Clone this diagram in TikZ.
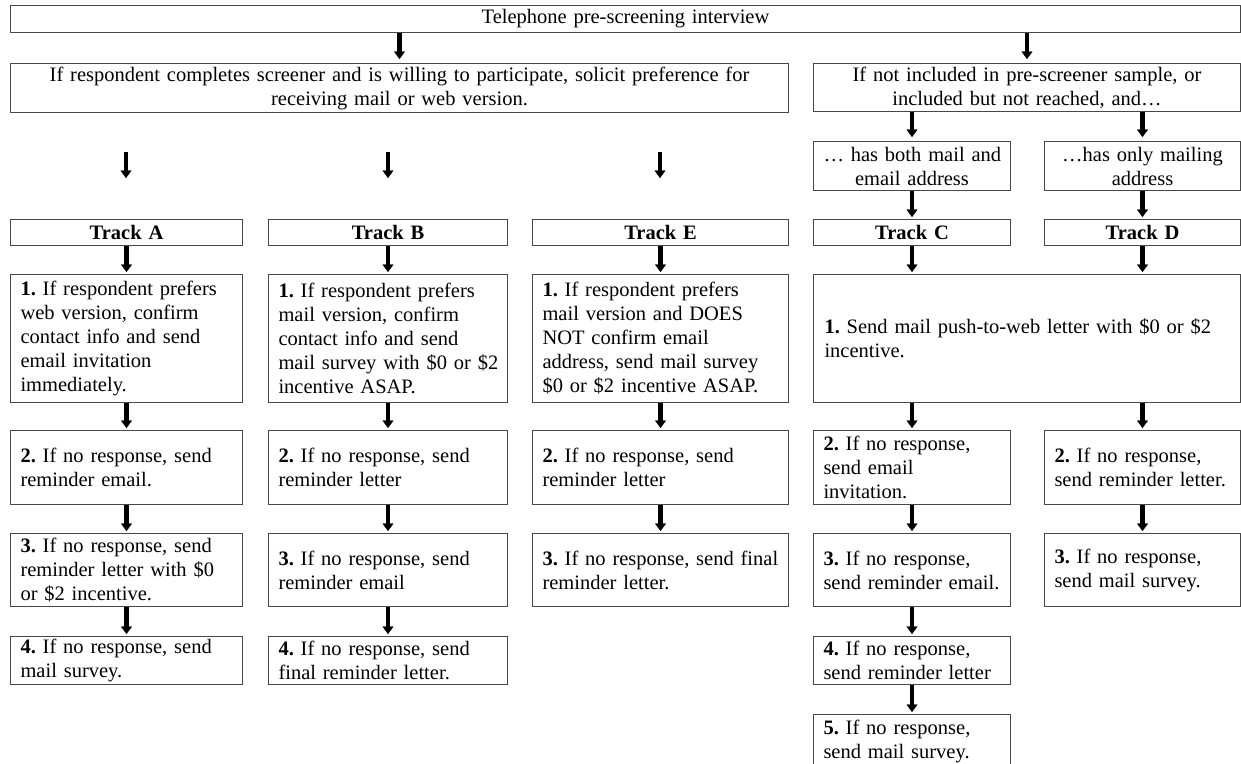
\documentclass[tikz,border=0pt]{standalone}
\usepackage{fontspec}
\setmainfont{Liberation Serif}
\usetikzlibrary{arrows.meta}
\newcommand\fsz{\fontsize{20.5}{24}\selectfont\frenchspacing}
\newcommand\Lx[1]{\mbox{#1}}
\hbadness=10000
\hfuzz=100pt
\tikzset{
  bx/.style={draw=black!72, line width=1pt, anchor=north west, inner xsep=10pt, inner ysep=0pt, font=\fsz},
  stepbox/.style={bx, align=left},
  hdrbox/.style={bx, align=center},
  arr/.style={line width=4.2pt, -{Triangle[width=11pt 0 0, length=7.5pt 0 0, line width=0.3pt 0]}, shorten >=2pt}
}
\begin{document}
\begin{tikzpicture}[x=1pt,y=-1pt]
\useasboundingbox[fill=white] (0,0) rectangle (1241,763);

% headers
\node[hdrbox, minimum width=1230pt, minimum height=27pt, text width=1210pt] (top) at (10,5) {Telephone pre-screening interview};
\node[hdrbox, minimum width=778pt, minimum height=49pt, text width=758pt] (hL) at (10,63) {\Lx{If respondent completes screener and is willing to participate, solicit preference for}\\ \Lx{receiving mail or web version.}};
\node[hdrbox, minimum width=427pt, minimum height=48pt, text width=407pt] (hR) at (813,63) {\Lx{If not included in pre-screener sample, or}\\ \Lx{included but not reached, and\dots}};
\node[hdrbox, minimum width=197pt, minimum height=49pt, text width=177pt] (cH) at (813,141) {\Lx{\dots{} has both mail and}\\ \Lx{email address}};
\node[hdrbox, minimum width=196pt, minimum height=49pt, text width=176pt] (dH) at (1044,141) {\Lx{\dots has only mailing}\\ \Lx{address}};

% tracks
\node[hdrbox, minimum width=232pt, minimum height=26pt, text width=212pt] (tA) at (10,219) {\textbf{Track A}};
\node[hdrbox, minimum width=239pt, minimum height=26pt, text width=219pt] (tB) at (268,219) {\textbf{Track B}};
\node[hdrbox, minimum width=256pt, minimum height=26pt, text width=236pt] (tE) at (532,219) {\textbf{Track E}};
\node[hdrbox, minimum width=197pt, minimum height=26pt, text width=177pt] (tC) at (813,219) {\textbf{Track C}};
\node[hdrbox, minimum width=196pt, minimum height=26pt, text width=176pt] (tD) at (1044,219) {\textbf{Track D}};

% step 1
\node[stepbox, minimum width=232pt, minimum height=128pt, text width=212pt] (a1) at (10,274) {\Lx{\textbf{1.} If respondent prefers}\\ \Lx{web version, confirm}\\ \Lx{contact info and send}\\ \Lx{email invitation}\\ \Lx{immediately.}};
\node[stepbox, minimum width=239pt, minimum height=128pt, text width=219pt] (b1) at (268,274) {\Lx{\textbf{1.} If respondent prefers}\\ \Lx{mail version, confirm}\\ \Lx{contact info and send}\\ \Lx{mail survey with \$0 or \$2}\\ \Lx{incentive ASAP.}};
\node[stepbox, minimum width=256pt, minimum height=128pt, text width=236pt] (e1) at (532,274) {\Lx{\textbf{1.} If respondent prefers}\\ \Lx{mail version and DOES}\\ \Lx{NOT confirm email}\\ \Lx{address, send mail survey}\\ \Lx{\$0 or \$2 incentive ASAP.}};
\node[stepbox, minimum width=427pt, minimum height=128pt, text width=405pt, inner xsep=11pt] (cd1) at (813,274) {\Lx{\textbf{1.} Send mail push-to-web letter with \$0 or \$2}\\ \Lx{incentive.}};

% step 2
\node[stepbox, minimum width=232pt, minimum height=74pt, text width=212pt] (a2) at (10,430) {\Lx{\textbf{2.} If no response, send}\\ \Lx{reminder email.}};
\node[stepbox, minimum width=239pt, minimum height=74pt, text width=219pt] (b2) at (268,430) {\Lx{\textbf{2.} If no response, send}\\ \Lx{reminder letter}};
\node[stepbox, minimum width=256pt, minimum height=74pt, text width=236pt] (e2) at (532,430) {\Lx{\textbf{2.} If no response, send}\\ \Lx{reminder letter}};
\node[stepbox, minimum width=197pt, minimum height=74pt, text width=177pt] (c2) at (813,430) {\Lx{\textbf{2.} If no response,}\\ \Lx{send email}\\ \Lx{invitation.}};
\node[stepbox, minimum width=196pt, minimum height=74pt, text width=176pt] (d2) at (1044,430) {\Lx{\textbf{2.} If no response,}\\ \Lx{send reminder letter.}};

% step 3
\node[stepbox, minimum width=232pt, minimum height=73pt, text width=212pt] (a3) at (10,533) {\Lx{\textbf{3.} If no response, send}\\ \Lx{reminder letter with \$0}\\ \Lx{or \$2 incentive.}};
\node[stepbox, minimum width=239pt, minimum height=73pt, text width=219pt] (b3) at (268,533) {\Lx{\textbf{3.} If no response, send}\\ \Lx{reminder email}};
\node[stepbox, minimum width=256pt, minimum height=73pt, text width=236pt] (e3) at (532,533) {\Lx{\textbf{3.} If no response, send final}\\ \Lx{reminder letter.}};
\node[stepbox, minimum width=197pt, minimum height=73pt, text width=177pt] (c3) at (813,533) {\Lx{\textbf{3.} If no response,}\\ \Lx{send reminder email.}};
\node[stepbox, minimum width=196pt, minimum height=73pt, text width=176pt] (d3) at (1044,533) {\Lx{\textbf{3.} If no response,}\\ \Lx{send mail survey.}};

% step 4
\node[stepbox, minimum width=232pt, minimum height=48pt, text width=212pt] (a4) at (10,636) {\Lx{\textbf{4.} If no response, send}\\ \Lx{mail survey.}};
\node[stepbox, minimum width=239pt, minimum height=48pt, text width=219pt] (b4) at (268,636) {\Lx{\textbf{4.} If no response, send}\\ \Lx{final reminder letter.}};
\node[stepbox, minimum width=197pt, minimum height=48pt, text width=177pt] (c4) at (813,636) {\Lx{\textbf{4.} If no response,}\\ \Lx{send reminder letter}};

% step 5
\node[stepbox, minimum width=197pt, minimum height=54pt, text width=177pt] (c5) at (813,714) {\Lx{\textbf{5.} If no response,}\\ \Lx{send mail survey.}};

% free arrows below left header
\coordinate (fAs) at (126,152); \coordinate (fAe) at (126,178);
\coordinate (fBs) at (388,152); \coordinate (fBe) at (388,178);
\coordinate (fEs) at (660,152); \coordinate (fEe) at (660,178);

% connectors
\draw[arr, shorten >=4pt] (top.south -| hL.north) -- (hL.north);
\draw[arr, shorten >=4pt] (top.south -| hR.north) -- (hR.north);
\draw[arr, shorten >=0pt] (fAs) -- (fAe);
\draw[arr, shorten >=0pt] (fBs) -- (fBe);
\draw[arr, shorten >=0pt] (fEs) -- (fEe);
\draw[arr, shorten >=4pt] (hR.south -| cH.north) -- (cH.north);
\draw[arr, shorten >=4pt] (hR.south -| dH.north) -- (dH.north);
\draw[arr] (cH.south) -- (tC.north);
\draw[arr] (dH.south) -- (tD.north);

\draw[arr] (tA.south) -- (a1.north);
\draw[arr] (tB.south) -- (b1.north);
\draw[arr] (tE.south) -- (e1.north);
\draw[arr] (tC.south) -- (tC.south |- cd1.north);
\draw[arr] (tD.south) -- (tD.south |- cd1.north);

\draw[arr] (a1.south) -- (a2.north);
\draw[arr] (b1.south) -- (b2.north);
\draw[arr] (e1.south) -- (e2.north);
\draw[arr] (cd1.south -| c2.north) -- (c2.north);
\draw[arr] (cd1.south -| d2.north) -- (d2.north);

\draw[arr] (a2.south) -- (a3.north);
\draw[arr] (b2.south) -- (b3.north);
\draw[arr] (e2.south) -- (e3.north);
\draw[arr] (c2.south) -- (c3.north);
\draw[arr] (d2.south) -- (d3.north);

\draw[arr] (a3.south) -- (a4.north);
\draw[arr] (b3.south) -- (b4.north);
\draw[arr] (c3.south) -- (c4.north);
\draw[arr] (c4.south) -- (c5.north);
\end{tikzpicture}
\end{document}
